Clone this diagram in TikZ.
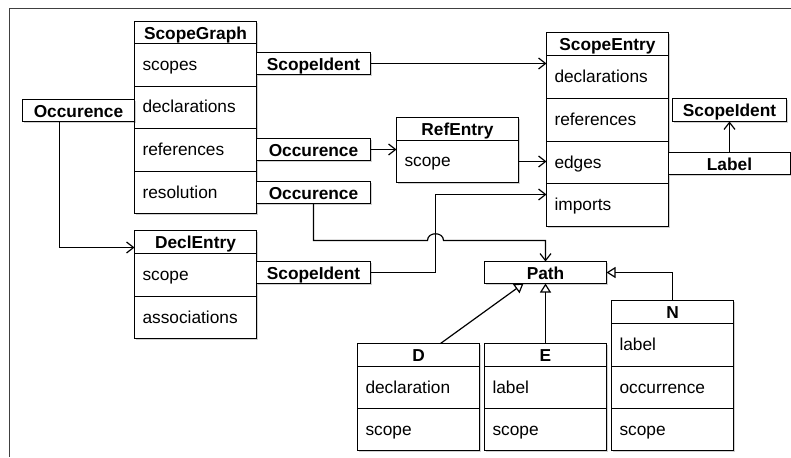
\documentclass[tikz,border=0pt]{standalone}
\usepackage{fontspec}
\setmainfont{Liberation Sans}
\usetikzlibrary{arrows.meta,shadows}
\newcommand\dfont{\fontsize{17.3pt}{20pt}\selectfont}
\tikzset{
  base/.style={draw=black, fill=white, line width=1.2pt, inner sep=0pt, outer sep=0pt,
    drop shadow={shadow xshift=1.2pt, shadow yshift=-1.4pt, opacity=0.18, fill=black}},
  hdr/.style={base, minimum width=122pt, minimum height=23pt, text height=14.5pt, text depth=1pt,
    font=\dfont\bfseries, anchor=north west},
  row/.style={base, minimum width=122pt, minimum height=42pt, text width=106pt, text height=13pt, text depth=2pt,
    align=left, font=\dfont, anchor=north west},
  badge/.style={base, minimum width=114pt, minimum height=22pt, text height=14.5pt, text depth=1pt,
    font=\dfont\bfseries, anchor=north west},
  conn/.style={line width=1.2pt, -{Straight Barb[length=7pt,width=11pt,line width=1.2pt]}},
  inh/.style={line width=1.2pt, -{Triangle[open,length=9pt,width=11pt,line width=1.2pt]}},
  frame/.style={line width=1.6pt, draw=black!75}
}
\begin{document}
\begin{tikzpicture}[x=1pt,y=-1pt]
\useasboundingbox (0,0) rectangle (791,457);
\draw[frame] (791,8.5) -- (9.5,8.5) -- (9.5,457);

% ScopeGraph
\node[hdr, minimum height=22pt] (sg) at (134.5,21.5) {ScopeGraph};
\node[row, minimum height=43pt] (sgscopes) at (sg.south west) {scopes};
\node[row] (sgdecl) at (sgscopes.south west) {declarations};
\node[row, minimum height=43pt] (sgref) at (sgdecl.south west) {references};
\node[row] (sgres) at (sgref.south west) {resolution};

% badges around ScopeGraph
\node[badge] (si1) at (256.5,52.5) {ScopeIdent};
\node[badge, minimum width=112pt] (oc1) at (22.5,99.5) {Occurence};
\node[badge] (oc2) at (256.5,138.5) {Occurence};
\node[badge] (oc3) at (256.5,181.5) {Occurence};

% ScopeEntry
\node[hdr] (se) at (546.5,32.5) {ScopeEntry};
\node[row, minimum height=43pt] (sedecl) at (se.south west) {declarations};
\node[row, minimum height=43pt] (seref) at (sedecl.south west) {references};
\node[row] (seedges) at (seref.south west) {edges};
\node[row, minimum height=43pt] (seimp) at (seedges.south west) {imports};

% RefEntry
\node[hdr] (re) at (396.5,117.5) {RefEntry};
\node[row] (rescope) at (re.south west) {scope};

% Label / ScopeIdent right
\node[badge, minimum height=23pt] (si3) at (672.5,98.5) {ScopeIdent};
\node[badge, minimum width=122pt] (lbl) at (668.5,152.5) {Label};

% DeclEntry
\node[hdr] (de) at (134.5,230.5) {DeclEntry};
\node[row, minimum height=43pt] (descope) at (de.south west) {scope};
\node[row] (deassoc) at (descope.south west) {associations};
\node[badge] (si2) at (256.5,261.5) {ScopeIdent};

% Path and subclasses
\node[badge, minimum width=122pt] (path) at (484.5,261.5) {Path};
\node[hdr] (d) at (357.5,343.5) {D};
\node[row] (ddecl) at (d.south west) {declaration};
\node[row] (dscope) at (ddecl.south west) {scope};
\node[hdr] (e) at (484.5,343.5) {E};
\node[row] (elabel) at (e.south west) {label};
\node[row] (escope) at (elabel.south west) {scope};
\node[hdr] (n) at (611.5,300.5) {N};
\node[row, minimum height=43pt] (nlabel) at (n.south west) {label};
\node[row] (nocc) at (nlabel.south west) {occurrence};
\node[row] (nscope) at (nocc.south west) {scope};

% connectors
\draw[conn] (si1.east) -- (si1.east -| sedecl.west);
\draw[conn] ([xshift=-19pt]oc1.south) |- ([yshift=-5.5pt]de.west);
\draw[conn] (oc2.east) -- (oc2.east -| rescope.west);
\draw[conn] (rescope.east) -- (rescope.east -| seedges.west);
\draw[conn] (lbl.north -| si3.south) -- (si3.south);

\coordinate (impbend) at (435.5,194.5);
\draw[conn] (si2.east) -| (impbend) -- (impbend -| seimp.west);

\coordinate (hopa) at (427.5,240.5);
\coordinate (hopb) at (443.5,240.5);
\draw[conn] (oc3.south) |- (hopa) .. controls (427.5,231.5) and (443.5,231.5) .. (hopb) -- (hopb -| path.north) -- (path.north);

\draw[inh] ([xshift=22pt]d.north) -- ([xshift=-22pt]path.south);
\draw[inh] (e.north) -- (e.north |- path.south);
\draw[inh] (n.north) |- (path.east);
\end{tikzpicture}
\end{document}
